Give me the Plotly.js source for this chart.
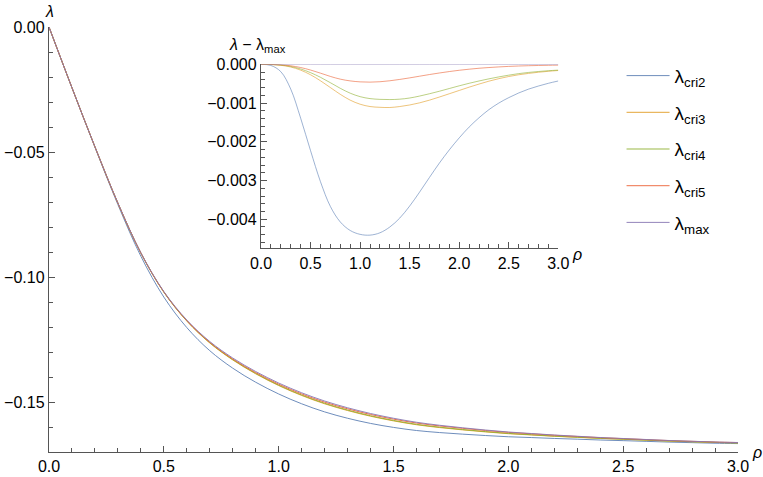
<!DOCTYPE html>
<html>
<head>
<meta charset="utf-8">
<script src="https://cdn.plot.ly/plotly-3.0.1.min.js"></script>
<style>
  body { margin: 0; background: #fff; }
  #plot { width: 763px; height: 477px; }
</style>
</head>
<body>
<div id="plot"></div>
<script>
// rho grid, shared by every curve
var rho = [0.0, 0.1, 0.2, 0.3, 0.4, 0.5, 0.6, 0.7, 0.8, 0.9,
           1.0, 1.1, 1.2, 1.3, 1.4, 1.5, 1.6, 1.7, 1.8, 1.9,
           2.0, 2.1, 2.2, 2.3, 2.4, 2.5, 2.6, 2.7, 2.8, 2.9, 3.0];

// lambda_max
var lamMax = [0, -0.0243, -0.0479, -0.0704, -0.0903, -0.1058, -0.1172, -0.1258, -0.1324, -0.1378,
              -0.1424, -0.1463, -0.1496, -0.1523, -0.1546, -0.1565, -0.1581, -0.1593, -0.1603, -0.1612,
              -0.1620, -0.1626, -0.1632, -0.1637, -0.1642, -0.1646, -0.1650, -0.1654, -0.1657, -0.1660, -0.1662];

// lambda - lambda_max
var dCri2 = [0, -0.00003, -0.00019, -0.00064, -0.00139, -0.00223, -0.00303, -0.00367, -0.00407, -0.00429,
             -0.00439, -0.00441, -0.00435, -0.00420, -0.00397, -0.00366, -0.00330, -0.00292, -0.00255, -0.00221,
             -0.00190, -0.00162, -0.00138, -0.00117, -0.00100, -0.00086, -0.00074, -0.00064, -0.00056, -0.00049, -0.00043];
var dCri3 = [0, -0.000005, -0.000025, -0.00007, -0.00015, -0.00027, -0.000425, -0.0006, -0.000775, -0.000925,
             -0.00103, -0.00109, -0.00111, -0.001115, -0.00109, -0.00105, -0.000995, -0.000925, -0.000845, -0.00076,
             -0.000675, -0.00059, -0.00051, -0.000435, -0.00037, -0.000315, -0.00027, -0.000235, -0.000205, -0.00018, -0.00016];
var dCri4 = [0, -0.000005, -0.00002, -0.000055, -0.00012, -0.000215, -0.000335, -0.000475, -0.00062, -0.000745,
             -0.000835, -0.000885, -0.000905, -0.00091, -0.0009, -0.00087, -0.00082, -0.00076, -0.000695, -0.000625,
             -0.000555, -0.00049, -0.00043, -0.000375, -0.000325, -0.00028, -0.00024, -0.00021, -0.000185, -0.000165, -0.00015];
var dCri5 = [0, -0.000003, -0.000013, -0.000038, -0.000083, -0.000148, -0.000228, -0.000313, -0.000383, -0.000428,
             -0.000453, -0.00046, -0.00045, -0.000425, -0.00039, -0.00035, -0.000307, -0.000264, -0.000224, -0.000187,
             -0.000154, -0.000126, -0.000102, -0.000083, -0.000067, -0.000054, -0.000044, -0.000036, -0.00003, -0.000025, -0.000021];
var dMax = rho.map(r => 0);

// tick labels (true minus sign, as in the original)
var yTicks = [0, -0.05, -0.10, -0.15];
var yTickText = ["0.00", "−0.05", "−0.10", "−0.15"];
var y2Ticks = [0, -0.001, -0.002, -0.003, -0.004];
var y2TickText = ["0.000", "−0.001", "−0.002", "−0.003", "−0.004"];

var names = ["λ<sub>cri2</sub>", "λ<sub>cri3</sub>", "λ<sub>cri4</sub>", "λ<sub>cri5</sub>", "λ<sub>max</sub>"];
var colors = ["#5e81b5", "#e19c24", "#8fb032", "#eb6235", "#8778b3"];
var diffs = [dCri2, dCri3, dCri4, dCri5, dMax];

var data = [];
// main panel: lambda = lambda_max + difference
diffs.forEach((d, i) => {
  data.push({
    x: rho,
    y: lamMax.map((v, j) => v + d[j]),
    type: "scatter",
    mode: "lines",
    name: names[i],
    legendgroup: "g" + i,
    opacity: 0.9,
    line: {color: colors[i], width: 1, shape: "spline", smoothing: 1},
    xaxis: "x",
    yaxis: "y"
  });
});
// inset
diffs.forEach((d, i) => {
  data.push({
    x: rho,
    y: d,
    type: "scatter",
    mode: "lines",
    showlegend: false,
    legendgroup: "g" + i,
    opacity: 0.6,
    line: {color: colors[i], width: 1, shape: "spline", smoothing: 1},
    xaxis: "x2",
    yaxis: "y2"
  });
});

var fnt = "Liberation Sans, Arial, sans-serif";
var axisBase = {
  showline: true,
  linecolor: "#555",
  linewidth: 1.2,
  showgrid: false,
  zeroline: false,
  ticks: "inside",
  tickcolor: "#555",
  tickwidth: 1,
  ticklen: 6,
  tickfont: {family: fnt, size: 16, color: "#000"},
  fixedrange: true
};

var layout = {
  width: 763,
  height: 477,
  margin: {l: 49, r: 25, t: 27, b: 25},
  paper_bgcolor: "#fff",
  plot_bgcolor: "rgba(0,0,0,0)",
  font: {family: fnt, color: "#000"},
  xaxis: Object.assign({}, axisBase, {
    domain: [0, 1], range: [0, 3], dtick: 0.5, tickformat: ".1f", anchor: "y",
    minor: {dtick: 0.1, ticks: "inside", ticklen: 4, tickcolor: "#555"}
  }),
  yaxis: Object.assign({}, axisBase, {
    domain: [0, 1], range: [-0.17, 0], anchor: "x",
    tickmode: "array", tickvals: yTicks, ticktext: yTickText,
    minor: {tickmode: "linear", tick0: 0, dtick: 0.01, ticks: "inside", ticklen: 4, tickcolor: "#555"}
  }),
  xaxis2: Object.assign({}, axisBase, {
    domain: [0.3077, 0.7392], range: [0, 3], dtick: 0.5, tickformat: ".1f", anchor: "y2",
    minor: {dtick: 0.1, ticks: "inside", ticklen: 4, tickcolor: "#555"}
  }),
  yaxis2: Object.assign({}, axisBase, {
    domain: [0.4793, 0.9122], range: [-0.00475, 0], anchor: "x2",
    tickmode: "array", tickvals: y2Ticks, ticktext: y2TickText,
    minor: {tickmode: "linear", tick0: 0, dtick: 0.0002, ticks: "inside", ticklen: 4, tickcolor: "#555"}
  }),
  showlegend: true,
  legend: {
    x: 0.831, xanchor: "left",
    y: 0.93, yanchor: "top",
    bgcolor: "rgba(0,0,0,0)",
    tracegroupgap: 9,
    itemwidth: 43,
    font: {family: fnt, size: 19, color: "#000"}
  },
  annotations: [
    {xref: "paper", yref: "paper", x: 0, y: 1, xanchor: "center", yanchor: "bottom", yshift: 5,
     text: "<i>λ</i>", showarrow: false, font: {size: 16}},
    {xref: "paper", yref: "paper", x: 1, y: 0, xanchor: "left", yanchor: "middle", xshift: 12,
     text: "<i>ρ</i>", showarrow: false, font: {size: 16}},
    {xref: "paper", yref: "paper", x: 0.3077, y: 0.9122, xanchor: "center", yanchor: "bottom", yshift: 7, xshift: -4,
     text: "<i>λ</i> − λ<sub>max</sub>", showarrow: false, font: {size: 16}},
    {xref: "paper", yref: "paper", x: 0.7392, y: 0.4793, xanchor: "left", yanchor: "middle", xshift: 12, yshift: -6,
     text: "<i>ρ</i>", showarrow: false, font: {size: 16}}
  ]
};

Plotly.newPlot("plot", data, layout, {displayModeBar: false, staticPlot: true});
</script>
</body>
</html>
